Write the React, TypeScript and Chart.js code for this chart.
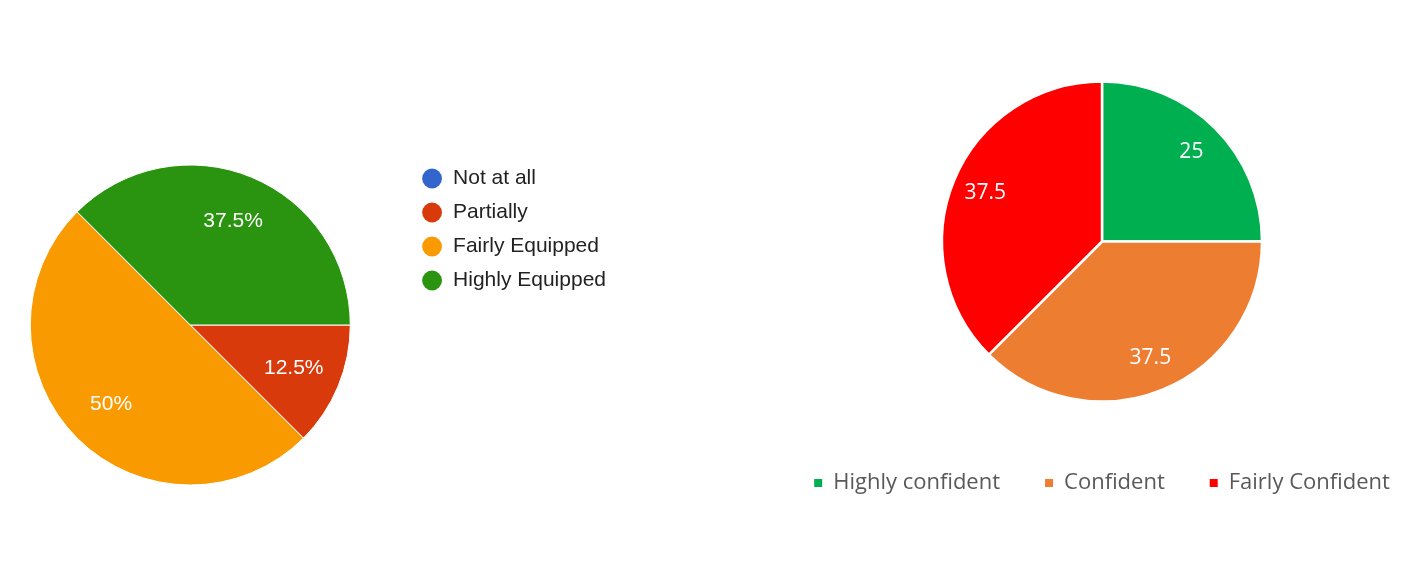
import { useEffect, useRef } from "react";
import { Chart, registerables } from "chart.js";

Chart.register(...registerables);

// left pie: how equipped
const EQUIP_LABELS = ["Not at all", "Partially", "Fairly Equipped", "Highly Equipped"];
const EQUIP_VALUES = [0, 12.5, 50, 37.5];
const EQUIP_COLORS = ["#3366cc", "#d83a0c", "#f99a00", "#2a9410"];

// right pie: how confident
const CONF_LABELS = ["Highly confident", "Confident", "Fairly Confident"];
const CONF_VALUES = [25, 37.5, 37.5];
const CONF_COLORS = ["#00b050", "#ed7d31", "#ff0000"];

// legend items without the white slice border
function plainLegendItems(chart: Chart) {
  const base = (Chart as any).overrides.pie.plugins.legend.labels.generateLabels(chart);
  return base.map((l: any) => ({ ...l, lineWidth: 0 }));
}

// white value labels inside each slice
function sliceLabels(id: string, factor: number, font: string, fmt: (v: number) => string) {
  return {
    id,
    afterDatasetsDraw(chart: Chart) {
      const { ctx } = chart;
      const meta = chart.getDatasetMeta(0);
      const values = chart.data.datasets[0].data as number[];
      ctx.save();
      ctx.font = font;
      ctx.fillStyle = "#ffffff";
      ctx.textAlign = "center";
      ctx.textBaseline = "middle";
      meta.data.forEach((arc: any, i) => {
        const v = values[i];
        if (!v) return;
        const { x, y, startAngle, endAngle, outerRadius } = arc.getProps(
          ["x", "y", "startAngle", "endAngle", "outerRadius"],
          true
        );
        const mid = (startAngle + endAngle) / 2;
        const r = outerRadius * factor;
        ctx.fillText(fmt(v), x + Math.cos(mid) * r, y + Math.sin(mid) * r);
      });
      ctx.restore();
    },
  };
}

function EquipPie() {
  const canvasRef = useRef<HTMLCanvasElement>(null);

  useEffect(() => {
    if (!canvasRef.current) return;
    const chart = new Chart(canvasRef.current, {
      type: "pie",
      plugins: [sliceLabels("equipLabels", 0.7, "21px 'Liberation Sans', Arial, sans-serif", (v) => `${v}%`)],
      data: {
        labels: EQUIP_LABELS,
        datasets: [
          {
            data: EQUIP_VALUES,
            backgroundColor: EQUIP_COLORS,
            borderColor: "#ffffff",
            borderWidth: 1,
            radius: 160,
          },
        ],
      },
      options: {
        animation: false,
        responsive: true,
        maintainAspectRatio: false,
        rotation: 90,
        layout: { padding: { left: 12, right: 0, top: 155, bottom: 93 } },
        plugins: {
          tooltip: { enabled: false },
          legend: {
            position: "right",
            align: "start",
            labels: {
              usePointStyle: true,
              pointStyle: "circle",
              boxWidth: 21,
              boxHeight: 14,
              padding: 13,
              color: "#222222",
              font: { family: "'Liberation Sans', Arial, sans-serif", size: 21 },
              generateLabels: plainLegendItems,
            },
          },
        },
      },
    });
    return () => chart.destroy();
  }, []);

  return (
    <div style={{ position: "absolute", left: -40, top: 0, width: 656, height: 588 }}>
      <canvas ref={canvasRef} />
    </div>
  );
}

function ConfPie() {
  const canvasRef = useRef<HTMLCanvasElement>(null);

  useEffect(() => {
    if (!canvasRef.current) return;
    const chart = new Chart(canvasRef.current, {
      type: "pie",
      plugins: [sliceLabels("confLabels", 0.79, "21px 'Open Sans', sans-serif", (v) => `${v}`)],
      data: {
        labels: CONF_LABELS,
        datasets: [
          {
            data: CONF_VALUES,
            backgroundColor: CONF_COLORS,
            borderColor: "#ffffff",
            borderWidth: 2.5,
            radius: 160,
          },
        ],
      },
      options: {
        animation: false,
        responsive: true,
        maintainAspectRatio: false,
        layout: { padding: { left: 49, right: 0, top: 56, bottom: 84 } },
        plugins: {
          tooltip: { enabled: false },
          legend: {
            position: "bottom",
            labels: {
              boxWidth: 8,
              boxHeight: 8,
              padding: 45,
              color: "#595959",
              font: { family: "'Open Sans', sans-serif", size: 22 },
              generateLabels: plainLegendItems,
            },
          },
        },
      },
    });
    return () => chart.destroy();
  }, []);

  return (
    <div style={{ position: "absolute", left: 703, top: 0, width: 749, height: 588 }}>
      <canvas ref={canvasRef} />
    </div>
  );
}

export default function App() {
  return (
    <div
      style={{
        position: "absolute",
        left: 0,
        top: 0,
        width: 1419,
        height: 588,
        overflow: "hidden",
        background: "#ffffff",
      }}
    >
      <EquipPie />
      <ConfPie />
    </div>
  );
}
